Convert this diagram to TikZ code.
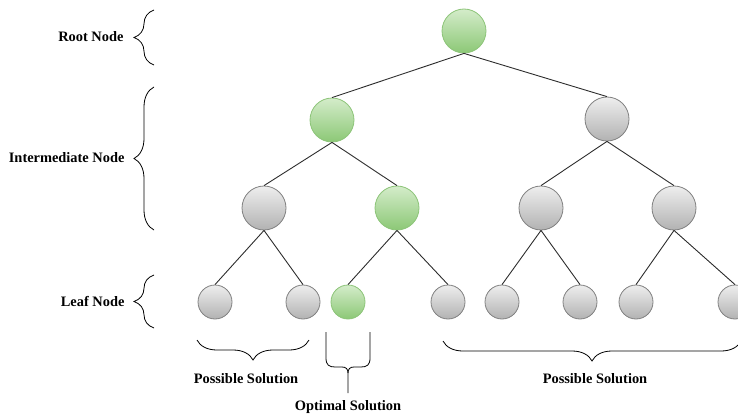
\documentclass[tikz,border=0pt]{standalone}
\usepackage{fontspec}
\setmainfont{Liberation Serif}
\usetikzlibrary{decorations.pathreplacing}

\definecolor{grayTop}{RGB}{238,238,238}
\definecolor{grayBot}{RGB}{178,178,178}
\definecolor{grayLine}{RGB}{128,128,128}
\definecolor{greenTop}{RGB}{212,236,202}
\definecolor{greenBot}{RGB}{140,200,118}
\definecolor{greenLine}{RGB}{140,196,120}
\definecolor{edgeCol}{RGB}{45,45,45}

\begin{document}
\begin{tikzpicture}[x=1pt,y=1pt,
  graynode/.style={circle,draw=grayLine,line width=0.8pt,top color=grayTop,bottom color=grayBot,minimum size=44pt,inner sep=0pt},
  greennode/.style={circle,draw=greenLine,line width=0.8pt,top color=greenTop,bottom color=greenBot,minimum size=44pt,inner sep=0pt},
  leafsize/.style={minimum size=34pt},
  edge/.style={draw=edgeCol,line width=0.9pt},
  bracedec/.style={decorate,decoration={brace,amplitude=20pt},line width=0.8pt},
  lbl/.style={font=\fontsize{14.4}{16}\selectfont\bfseries}]
\useasboundingbox (0,0) rectangle (738,416);

% tree
\node[greennode] (root) at (464,385) {};
\node[greennode] (n1) at (332,296) {};
\node[graynode] (n2) at (607,297) {};
\node[graynode] (n11) at (264,208) {};
\node[greennode] (n12) at (397,208) {};
\node[graynode] (n21) at (541,208) {};
\node[graynode] (n22) at (674,208) {};
\node[graynode,leafsize] (l1) at (215,114) {};
\node[graynode,leafsize] (l2) at (303,114) {};
\node[greennode,leafsize] (l3) at (348,114) {};
\node[graynode,leafsize] (l4) at (448,114) {};
\node[graynode,leafsize] (l5) at (502,114) {};
\node[graynode,leafsize] (l6) at (580,114) {};
\node[graynode,leafsize] (l7) at (636,114) {};
\node[graynode,leafsize] (l8) at (735,114) {};

\draw[edge] (root.south) -- (n1.north);
\draw[edge] (root.south) -- (n2.north);
\draw[edge] (n1.south) -- (n11.north);
\draw[edge] (n1.south) -- (n12.north);
\draw[edge] (n2.south) -- (n21.north);
\draw[edge] (n2.south) -- (n22.north);
\draw[edge] (n11.south) -- (l1.north);
\draw[edge] (n11.south) -- (l2.north);
\draw[edge] (n12.south) -- (l3.north);
\draw[edge] (n12.south) -- (l4.north);
\draw[edge] (n21.south) -- (l5.north);
\draw[edge] (n21.south) -- (l6.north);
\draw[edge] (n22.south) -- (l7.north);
\draw[edge] (n22.south) -- (l8.north);

% level braces
\draw[bracedec] (154,351) -- (154,406);
\node[lbl,anchor=east] (rootlbl) at (127,379) {Root Node};
\draw[bracedec] (154,186) -- (154,329);
\node[lbl,anchor=east] (midlbl) at (128,258) {Intermediate Node};
\draw[bracedec] (154,88) -- (154,141);
\node[lbl,anchor=east] (leaflbl) at (128,115) {Leaf Node};

% solution braces
\draw[bracedec] (309,76) -- (197,76);
\node[lbl] (possA) at (246,37) {Possible Solution};
\draw[bracedec] (741,75) -- (443,75);
\node[lbl] (possB) at (595,37) {Possible Solution};
\draw[line width=0.8pt] (326,84) -- (326,58) .. controls (326,51) and (329,49) .. (335,49) -- (342,49) .. controls (346,49) and (348,47) .. (348,43) -- (348,23);
\draw[line width=0.8pt] (370,84) -- (370,58) .. controls (370,51) and (367,49) .. (361,49) -- (354,49) .. controls (350,49) and (348,47) .. (348,43);
\node[lbl] (optlbl) at (348,9) {Optimal Solution};

\end{tikzpicture}
\end{document}
